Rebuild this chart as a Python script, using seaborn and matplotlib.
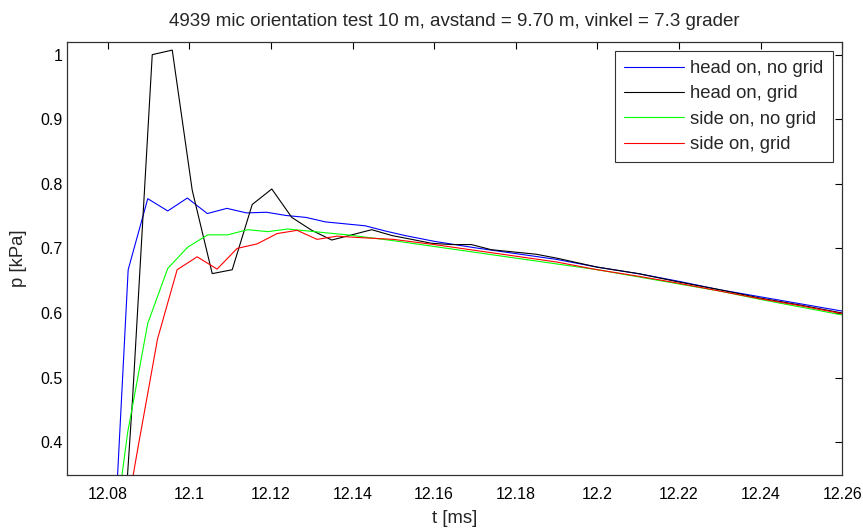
import numpy as np
import pandas as pd
import matplotlib
matplotlib.use("Agg")
import matplotlib.pyplot as plt
import seaborn as sns

# ---------------- data ----------------
series_names = ["head on, no grid", "head on, grid", "side on, no grid", "side on, grid"]
series_colors = ["#0000ff", "#000000", "#00ff00", "#ff0000"]

t_head_nogrid = [12.0801, 12.0850, 12.0898, 12.0947, 12.0995, 12.1044, 12.1092, 12.1140,
                 12.1189, 12.1237, 12.1286, 12.1334, 12.1383, 12.1431, 12.1480, 12.1528,
                 12.16, 12.17, 12.18, 12.19, 12.20, 12.21, 12.22, 12.23, 12.24, 12.25, 12.26]
p_head_nogrid = [0.067, 0.667, 0.777, 0.758, 0.778, 0.754, 0.762, 0.755,
                 0.756, 0.751, 0.748, 0.741, 0.738, 0.735, 0.727, 0.720,
                 0.711, 0.701, 0.692, 0.683, 0.671, 0.661, 0.649, 0.636, 0.625, 0.614, 0.603]

t_head_grid = [12.0812, 12.0861, 12.0909, 12.0958, 12.1007, 12.1056, 12.1105, 12.1154,
               12.1202, 12.1251, 12.1300, 12.1349, 12.1398, 12.1447, 12.1496, 12.1545,
               12.1593, 12.1642, 12.1691, 12.1740, 12.1850, 12.19, 12.20, 12.21, 12.22,
               12.23, 12.24, 12.25, 12.26]
p_head_grid = [0.000, 0.470, 1.000, 1.007, 0.790, 0.661, 0.667, 0.768,
               0.792, 0.748, 0.728, 0.713, 0.721, 0.729, 0.720, 0.714,
               0.708, 0.706, 0.706, 0.698, 0.691, 0.685, 0.671, 0.661, 0.648,
               0.636, 0.623, 0.612, 0.600]

t_side_nogrid = [12.0800, 12.0849, 12.0898, 12.0947, 12.0996, 12.1045, 12.1094, 12.1143,
                 12.1192, 12.1241, 12.1290, 12.1338, 12.1387, 12.15, 12.16, 12.17, 12.18,
                 12.19, 12.20, 12.21, 12.22, 12.23, 12.24, 12.25, 12.26]
p_side_nogrid = [0.185, 0.416, 0.584, 0.669, 0.702, 0.721, 0.721, 0.729,
                 0.726, 0.730, 0.727, 0.724, 0.721, 0.712, 0.703, 0.694, 0.685,
                 0.676, 0.667, 0.656, 0.645, 0.634, 0.621, 0.609, 0.597]

t_side_grid = [12.0824, 12.0873, 12.0922, 12.0970, 12.1019, 12.1068, 12.1117, 12.1166,
               12.1215, 12.1264, 12.1313, 12.1362, 12.1411, 12.15, 12.16, 12.17, 12.18,
               12.19, 12.20, 12.21, 12.22, 12.23, 12.24, 12.25, 12.26]
p_side_grid = [0.210, 0.388, 0.560, 0.667, 0.687, 0.668, 0.700, 0.707,
               0.723, 0.728, 0.714, 0.719, 0.717, 0.714, 0.706, 0.697, 0.688,
               0.679, 0.667, 0.657, 0.646, 0.634, 0.622, 0.611, 0.599]

x_ticks = [12.08, 12.10, 12.12, 12.14, 12.16, 12.18, 12.20, 12.22, 12.24, 12.26]
x_tick_labels = ["12.08", "12.1", "12.12", "12.14", "12.16", "12.18", "12.2", "12.22", "12.24", "12.26"]
y_ticks = [0.4, 0.5, 0.6, 0.7, 0.8, 0.9, 1.0]
y_tick_labels = ["0.4", "0.5", "0.6", "0.7", "0.8", "0.9", "1"]

title = "4939 mic orientation test 10 m, avstand = 9.70 m, vinkel = 7.3 grader"

# ---------------- build long table ----------------
frames = []
for name, tt, pp in zip(series_names,
                        [t_head_nogrid, t_head_grid, t_side_nogrid, t_side_grid],
                        [p_head_nogrid, p_head_grid, p_side_nogrid, p_side_grid]):
    frames.append(pd.DataFrame({"t": tt, "p": pp, "series": name}))
df = pd.concat(frames, ignore_index=True)

# ---------------- plot ----------------
sns.set_theme(style="white")
plt.rcParams["font.family"] = ["Liberation Sans", "DejaVu Sans"]

fig = plt.figure(figsize=(8.63, 5.28), dpi=100)
ax = fig.add_axes([0.0776, 0.1013, 0.8983, 0.8197])

sns.lineplot(data=df, x="t", y="p", hue="series", hue_order=series_names,
             palette=dict(zip(series_names, series_colors)),
             estimator=None, sort=False, linewidth=0.8, ax=ax, legend=False)

ax.set_xlim(12.07, 12.26)
ax.set_ylim(0.35, 1.02)
ax.set_xticks(x_ticks)
ax.set_xticklabels(x_tick_labels)
ax.set_yticks(y_ticks)
ax.set_yticklabels(y_tick_labels)

ax.tick_params(axis="both", which="both", direction="in", length=5, width=0.8,
               top=True, right=True, labelsize=11.5, colors="#000000")
ax.tick_params(axis="x", pad=9)
ax.tick_params(axis="y", pad=3)
for s in ax.spines.values():
    s.set_visible(True)
    s.set_color("#333333")
    s.set_linewidth(0.9)

ax.set_xlabel("t [ms]", fontsize=13.3, labelpad=6)
ax.set_ylabel("p [kPa]", fontsize=13.3, labelpad=10)
ax.set_title(title, fontsize=13.5, pad=11)

handles = [plt.Line2D([], [], color=c, lw=0.8) for c in series_colors]
leg = ax.legend(handles, series_names, loc="upper right", fontsize=13.3,
                frameon=True, fancybox=False, shadow=False, framealpha=1,
                edgecolor="#333333", handlelength=3.25, handletextpad=0.36,
                labelspacing=0.45, borderpad=0.5, borderaxespad=0.5)
leg.get_frame().set_linewidth(0.8)

fig.savefig("out.png", dpi=100, facecolor="white")
